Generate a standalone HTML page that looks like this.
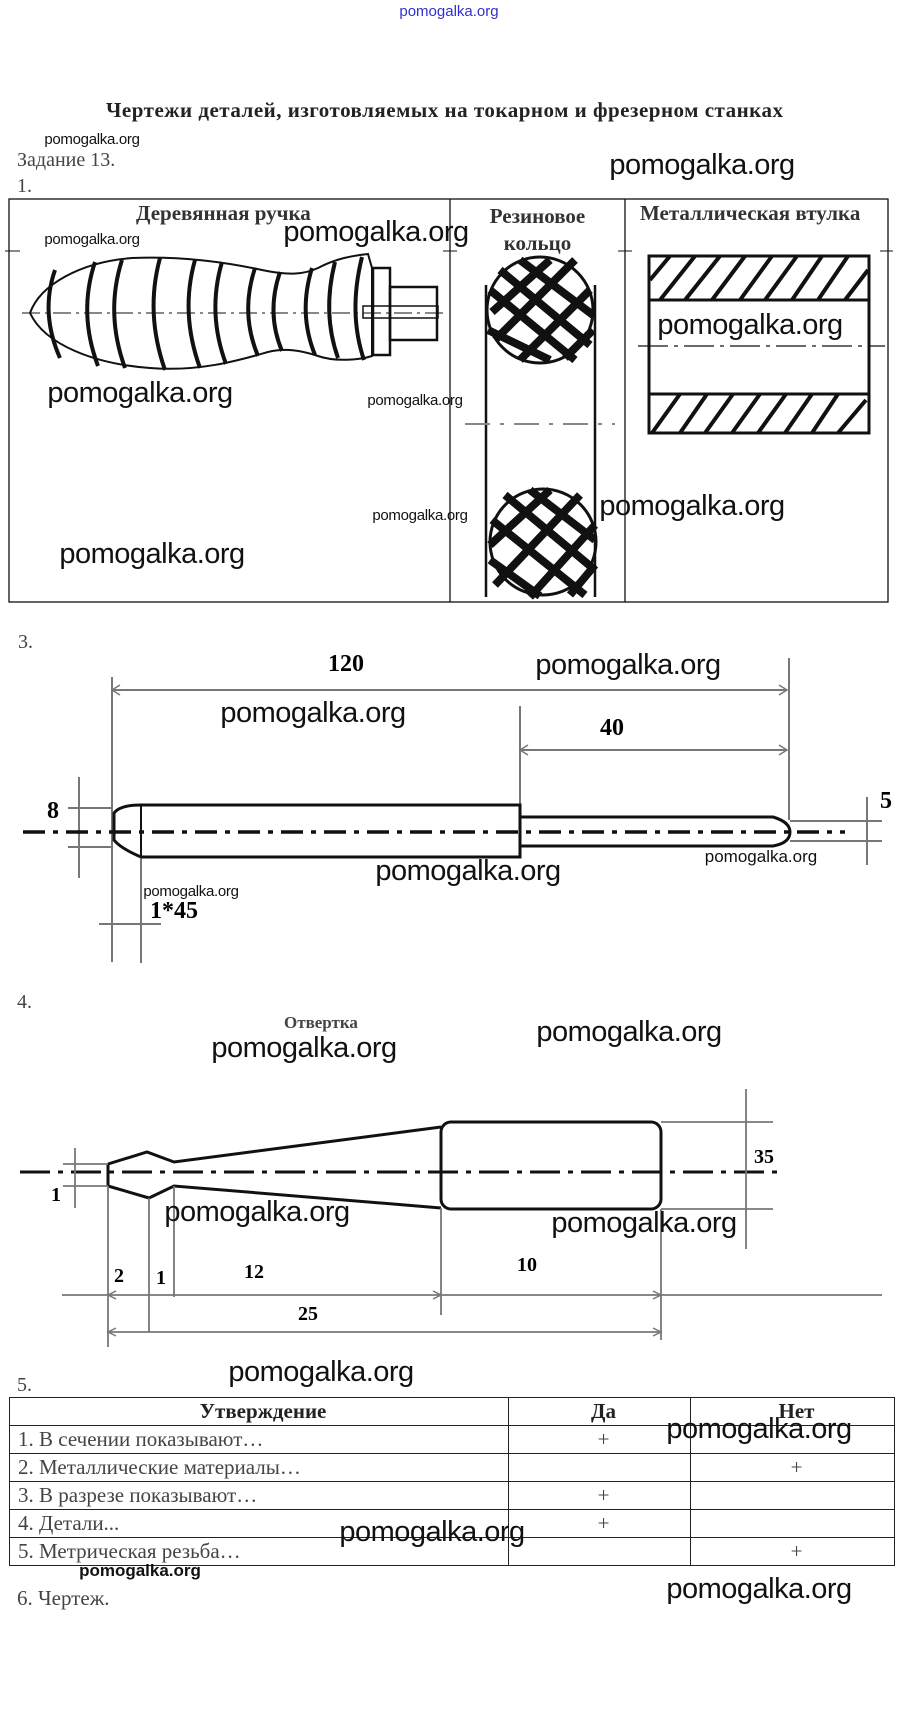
<!DOCTYPE html>
<html><head><meta charset="utf-8"><style>
body{margin:0;background:#fff;}
.w{position:relative;width:898px;height:1714px;overflow:hidden;font-family:"Liberation Serif",serif;}
.t{position:absolute;white-space:nowrap;line-height:1;}
.wm{position:absolute;white-space:nowrap;font-family:"Liberation Sans",sans-serif;color:#111;line-height:1;transform:translateX(-50%);}
.big{font-size:29px;letter-spacing:-0.5px;}
.sm{font-size:15px;letter-spacing:-0.3px;}
table{border-collapse:collapse;position:absolute;font-family:"Liberation Serif",serif;}
td{border:1.5px solid #222;padding:0 0 0 8px;height:27px;font-size:21px;color:#444;}
</style></head><body><div class="w">
<svg width="898" height="1714" style="position:absolute;left:0;top:0">
<g fill="none" stroke="#111">
<rect x="9" y="199" width="879" height="403" stroke-width="1.3"/>
<line x1="450" y1="199" x2="450" y2="602" stroke-width="1.3"/>
<line x1="625" y1="199" x2="625" y2="602" stroke-width="1.3"/>
<line x1="5" y1="251" x2="20" y2="251"/><line x1="443" y1="251" x2="457" y2="251"/><line x1="618" y1="251" x2="632" y2="251"/><line x1="880" y1="251" x2="893" y2="251"/>
<path d="M30,313 C40,285 80,262 132,258 C180,256 225,262 262,270 C290,276 305,274 318,268 C335,259 350,256 368,254 L372,268 L372,356 C360,360 335,362 318,356 C300,350 285,348 268,352 C240,360 200,372 150,368 C95,364 45,345 30,313 Z" stroke-width="2"/>
<g stroke-width="4">
<path d="M55,270 Q40,313 60,358"/><path d="M95,262 Q78,313 98,366"/><path d="M122,260 Q105,313 125,368"/><path d="M160,258 Q145,313 165,370"/><path d="M195,260 Q180,313 200,368"/><path d="M222,262 Q207,313 226,364"/><path d="M255,268 Q240,313 258,356"/><path d="M280,272 Q266,313 282,351"/><path d="M312,268 Q298,313 315,355"/><path d="M335,262 Q322,313 338,358"/><path d="M362,257 Q348,313 364,360"/>
</g>
<line x1="22" y1="313" x2="445" y2="313" stroke-width="1" stroke-dasharray="18,5,3,5"/>
<rect x="373" y="268" width="17" height="87" stroke-width="2.5"/>
<rect x="390" y="287" width="47" height="53" stroke-width="2.5"/>
<rect x="363" y="306" width="75" height="12" stroke-width="1.5"/>
<line x1="486" y1="285" x2="486" y2="597" stroke-width="2.5"/>
<line x1="595" y1="285" x2="595" y2="597" stroke-width="2.5"/>
<line x1="465" y1="424" x2="615" y2="424" stroke="#888" stroke-width="2" stroke-dasharray="25,10,4,10"/>
<circle cx="540" cy="310" r="53" stroke-width="3"/>
<circle cx="543" cy="542" r="53" stroke-width="3"/>
<g stroke-width="8">
<path d="M490,290 L575,360 M500,270 L590,345 M520,260 L593,315 M488,330 L550,360"/>
<path d="M575,260 L495,340 M590,290 L520,360 M550,260 L492,312 M593,330 L565,358"/>
<path d="M492,520 L585,595 M505,495 L595,570 M530,490 L595,540 M490,560 L540,596"/>
<path d="M580,495 L495,585 M595,525 L530,597 M550,490 L490,545 M595,565 L570,595"/>
</g>
<rect x="649" y="256" width="220" height="177" stroke-width="3"/>
<line x1="649" y1="300" x2="869" y2="300" stroke-width="3"/>
<line x1="649" y1="394" x2="869" y2="394" stroke-width="3"/>
<line x1="638" y1="346" x2="885" y2="346" stroke-width="1.3" stroke-dasharray="30,6,4,6"/>
<g stroke-width="4">
<path d="M650,280 L670,256 M660,300 L695,256 M685,300 L720,256 M712,300 L745,256 M740,300 L772,256 M765,300 L797,256 M792,300 L822,256 M818,300 L848,256 M845,300 L868,270"/>
<path d="M652,433 L680,394 M680,433 L707,394 M705,433 L733,394 M732,433 L760,394 M758,433 L786,394 M785,433 L812,394 M812,433 L838,394 M838,433 L866,400"/>
</g>
<g stroke="#777" stroke-width="2">
<line x1="112" y1="690" x2="787" y2="690"/>
<line x1="520" y1="750" x2="787" y2="750"/>
<line x1="112" y1="677" x2="112" y2="962"/>
<line x1="789" y1="658" x2="789" y2="820"/>
<line x1="520" y1="706" x2="520" y2="857"/>
<line x1="79" y1="777" x2="79" y2="878"/>
<line x1="68" y1="808" x2="112" y2="808"/><line x1="68" y1="847" x2="112" y2="847"/>
<line x1="867" y1="797" x2="867" y2="865"/>
<line x1="790" y1="821" x2="882" y2="821"/><line x1="790" y1="841" x2="882" y2="841"/>
<line x1="141" y1="845" x2="141" y2="963"/>
<line x1="99" y1="924" x2="161" y2="924"/>
</g>
<path d="M120,685 L112,690 L120,695 M779,685 L787,690 L779,695 M528,745 L520,750 L528,755 M779,745 L787,750 L779,755" stroke="#777" stroke-width="1.5"/>
<path d="M141,805 L520,805 L520,857 L141,857 M141,805 Q120,805 114,813 L114,840 Q120,848 141,857" stroke-width="3"/>
<line x1="141" y1="805" x2="141" y2="857" stroke-width="2"/>
<path d="M520,817 L773,817 Q790,822 790,832 Q790,843 773,846 L520,846" stroke-width="3"/>
<line x1="23" y1="832" x2="845" y2="832" stroke-width="3.5" stroke-dasharray="22,8,5,8"/>
<line x1="20" y1="1172" x2="780" y2="1172" stroke-width="3" stroke-dasharray="30,8,5,8"/>
<path d="M108,1164 L147,1152 L174,1162 L441,1127 M108,1186 L149,1198 L174,1186 L441,1208 M108,1164 L108,1186" stroke-width="3"/>
<rect x="441" y="1122" width="220" height="87" rx="10" stroke-width="3"/>
<g stroke="#777" stroke-width="1.8">
<line x1="746" y1="1089" x2="746" y2="1249"/>
<line x1="661" y1="1122" x2="773" y2="1122"/><line x1="661" y1="1209" x2="773" y2="1209"/>
<line x1="75" y1="1148" x2="75" y2="1208"/>
<line x1="63" y1="1164" x2="108" y2="1164"/><line x1="63" y1="1186" x2="108" y2="1186"/>
<line x1="62" y1="1295" x2="882" y2="1295"/>
<line x1="108" y1="1332" x2="661" y2="1332"/>
<line x1="108" y1="1186" x2="108" y2="1347"/>
<line x1="149" y1="1198" x2="149" y2="1332"/>
<line x1="174" y1="1186" x2="174" y2="1297"/>
<line x1="441" y1="1208" x2="441" y2="1315"/>
<line x1="661" y1="1209" x2="661" y2="1340"/>
</g>
<path d="M116,1291 L108,1295 L116,1299 M433,1291 L441,1295 L433,1299 M653,1291 L661,1295 L653,1299 M653,1328 L661,1332 L653,1336 M116,1328 L108,1332 L116,1336" stroke="#777" stroke-width="1.5"/>
</g>
</svg>
<div class="t" style="left:0;width:898px;text-align:center;top:4px;font-family:'Liberation Sans',sans-serif;font-size:15px;color:#3030d0;">pomogalka.org</div>
<div class="t" style="left:106px;top:100px;font-size:21px;font-weight:bold;color:#222;letter-spacing:0.5px;">Чертежи деталей, изготовляемых на токарном и фрезерном станках</div>
<div class="t" style="left:17px;top:150px;font-size:20px;color:#444;">Задание 13.</div>
<div class="t" style="left:17px;top:176px;font-size:20px;color:#444;">1.</div>
<div class="t" style="left:136px;top:203px;font-size:21px;font-weight:bold;color:#333;">Деревянная ручка</div>
<div class="t" style="left:450px;width:175px;text-align:center;top:203px;font-size:21px;font-weight:bold;color:#333;line-height:27px;">Резиновое<br>кольцо</div>
<div class="t" style="left:640px;top:203px;font-size:21px;font-weight:bold;color:#333;">Металлическая втулка</div>
<div class="t" style="left:18px;top:632px;font-size:20px;color:#444;">3.</div>
<div class="t" style="left:328px;top:652px;font-size:24px;font-weight:bold;">120</div>
<div class="t" style="left:600px;top:716px;font-size:24px;font-weight:bold;">40</div>
<div class="t" style="left:47px;top:799px;font-size:24px;font-weight:bold;">8</div>
<div class="t" style="left:880px;top:789px;font-size:24px;font-weight:bold;">5</div>
<div class="t" style="left:150px;top:899px;font-size:24px;font-weight:bold;">1*45</div>
<div class="t" style="left:17px;top:992px;font-size:20px;color:#444;">4.</div>
<div class="t" style="left:284px;top:1014px;font-size:17px;font-weight:bold;color:#444;">Отвертка</div>
<div class="t" style="left:754px;top:1147px;font-size:20px;font-weight:bold;">35</div>
<div class="t" style="left:51px;top:1185px;font-size:20px;font-weight:bold;">1</div>
<div class="t" style="left:114px;top:1266px;font-size:20px;font-weight:bold;">2</div>
<div class="t" style="left:156px;top:1268px;font-size:20px;font-weight:bold;">1</div>
<div class="t" style="left:244px;top:1262px;font-size:20px;font-weight:bold;">12</div>
<div class="t" style="left:517px;top:1255px;font-size:20px;font-weight:bold;">10</div>
<div class="t" style="left:298px;top:1304px;font-size:20px;font-weight:bold;">25</div>
<div class="t" style="left:17px;top:1375px;font-size:20px;color:#444;">5.</div>
<table style="left:9px;top:1397px;width:886px;">
<tr><td style="text-align:center;font-weight:bold;color:#222;width:490px;">Утверждение</td><td style="text-align:center;font-weight:bold;color:#222;width:173px;">Да</td><td style="text-align:center;font-weight:bold;color:#222;">Нет</td></tr>
<tr><td>1. В сечении показывают…</td><td style="text-align:center">+</td><td></td></tr>
<tr><td>2. Металлические материалы…</td><td></td><td style="text-align:center">+</td></tr>
<tr><td>3. В разрезе показывают…</td><td style="text-align:center">+</td><td></td></tr>
<tr><td>4. Детали...</td><td style="text-align:center">+</td><td></td></tr>
<tr><td>5. Метрическая резьба…</td><td></td><td style="text-align:center">+</td></tr>
</table>
<div class="t" style="left:17px;top:1588px;font-size:21px;color:#444;">6. Чертеж.</div>
<div class="wm sm" style="left:92px;top:132px;">pomogalka.org</div>
<div class="wm big" style="left:702px;top:151px;">pomogalka.org</div>
<div class="wm sm" style="left:92px;top:232px;">pomogalka.org</div>
<div class="wm big" style="left:376px;top:218px;">pomogalka.org</div>
<div class="wm big" style="left:750px;top:311px;">pomogalka.org</div>
<div class="wm big" style="left:140px;top:379px;">pomogalka.org</div>
<div class="wm sm" style="left:415px;top:393px;">pomogalka.org</div>
<div class="wm sm" style="left:420px;top:508px;">pomogalka.org</div>
<div class="wm big" style="left:692px;top:492px;">pomogalka.org</div>
<div class="wm big" style="left:152px;top:540px;">pomogalka.org</div>
<div class="wm big" style="left:628px;top:651px;">pomogalka.org</div>
<div class="wm big" style="left:313px;top:699px;">pomogalka.org</div>
<div class="wm big" style="left:468px;top:857px;">pomogalka.org</div>
<div class="wm" style="left:761px;top:848px;font-size:17px;">pomogalka.org</div>
<div class="wm sm" style="left:191px;top:884px;">pomogalka.org</div>
<div class="wm big" style="left:304px;top:1034px;">pomogalka.org</div>
<div class="wm big" style="left:629px;top:1018px;">pomogalka.org</div>
<div class="wm big" style="left:257px;top:1198px;">pomogalka.org</div>
<div class="wm big" style="left:644px;top:1209px;">pomogalka.org</div>
<div class="wm big" style="left:321px;top:1358px;">pomogalka.org</div>
<div class="wm big" style="left:759px;top:1415px;">pomogalka.org</div>
<div class="wm big" style="left:432px;top:1518px;">pomogalka.org</div>
<div class="wm" style="left:140px;top:1562px;font-size:17px;font-weight:bold;">pomogalka.org</div>
<div class="wm big" style="left:759px;top:1575px;">pomogalka.org</div>
</div></body></html>
